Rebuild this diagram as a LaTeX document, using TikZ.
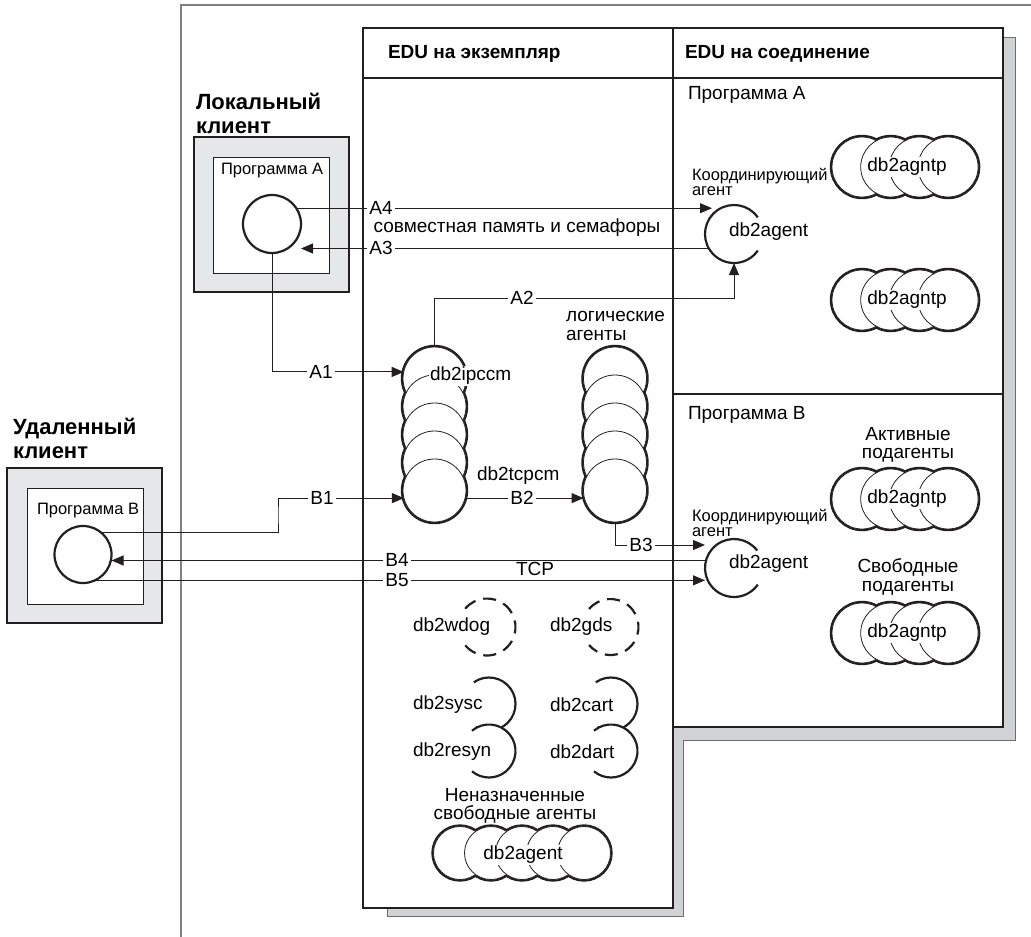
\documentclass[tikz,border=0pt]{standalone}
\usepackage{fontspec}
\setmainfont{Liberation Sans}
\usetikzlibrary{arrows.meta,calc}
\definecolor{shadowgray}{HTML}{D1D2D4}
\definecolor{boxgray}{HTML}{E6E7E8}
\definecolor{framegray}{HTML}{808080}
\definecolor{shadowline}{HTML}{6D6E70}
\definecolor{ink}{HTML}{231F20}
\newcommand{\myfs}[2]{\fontsize{#1}{#2}\selectfont}
\newcommand{\myhclust}[5]{%
  \foreach \i in {1,...,#3} {\draw[ink, line width=4.4pt] ({#1+(\i-1)*#4},#2) circle[radius=#5];}
  \foreach \i in {1,...,#3} {\fill[white] ({#1+(\i-1)*#4},#2) circle[radius=#5];}
  \foreach \i in {1,...,#3} {\filldraw[fill=white, draw=ink, line width=0.8pt] ({#1+(\i-1)*#4},#2) circle[radius=#5];}
}
\newcommand{\myvclust}[5]{%
  \foreach \i in {1,...,#3} {\draw[ink, line width=4.4pt] (#1,{#2+(\i-1)*#4}) circle[radius=#5];}
  \foreach \i in {1,...,#3} {\fill[white] (#1,{#2+(\i-1)*#4}) circle[radius=#5];}
  \foreach \i in {1,...,#3} {\filldraw[fill=white, draw=ink, line width=0.8pt] (#1,{#2+(\i-1)*#4}) circle[radius=#5];}
}
\begin{document}
\begin{tikzpicture}[x=1pt,y=-1pt,
  every node/.style={inner sep=0pt, outer sep=0pt},
  thickbox/.style={draw=ink, line width=2.6pt},
  conn/.style={draw=ink, line width=1pt},
  arr/.style={conn, -{Triangle[length=12pt,width=10pt]}},
  lbl/.style={fill=white, inner xsep=2pt, inner ysep=0.5pt, font=\myfs{19}{19}},
  txt/.style={font=\myfs{19}{18.5}},
  smalltxt/.style={font=\myfs{16.5}{15.5}, align=left},
  boxtxt/.style={font=\myfs{16.5}{18}},
  hdr/.style={font=\bfseries\myfs{19}{19}},
  ttl/.style={font=\bfseries\myfs{22}{24}, align=left},
  anch/.style={circle, minimum size=#1, inner sep=0pt, outer sep=0pt},
  agline/.style={draw=ink, line width=2.2pt},
]
\useasboundingbox (0,0) rectangle (1031,937);
% outer frame
\draw[framegray, line width=1.5pt] (181,937) -- (181,5) -- (1031,5);
% shadow
\filldraw[fill=shadowgray, draw=shadowline, line width=1pt] (387,37) -- (1015,37) -- (1015,740) -- (683,740) -- (683,916) -- (387,916) -- cycle;
% main boxes
\filldraw[fill=white, thickbox] (363,28) rectangle (673,908);
\filldraw[fill=white, thickbox] (673,28) rectangle (1003,727);
\draw[thickbox] (363,78) -- (1003,78);
\draw[thickbox] (673,394) -- (1003,394);
\node[hdr, anchor=west] (h1) at (388,54) {EDU на экземпляр};
\node[hdr, anchor=west] (h2) at (685,54) {EDU на соединение};

% local client
\node[ttl, anchor=west] (lcttl) at (196,113) {Локальный\\клиент};
\filldraw[fill=boxgray, thickbox] (194,137) rectangle (349,292);
\filldraw[fill=white, draw=ink, line width=1pt] (213,157) rectangle (329,273);
\node[boxtxt, anchor=west] (lcprog) at (221,171) {Программа А};
\node[anch=58, draw=ink, line width=2.2pt] (lcirc) at (272,224) {};

% remote client
\node[ttl, anchor=west] (rcttl) at (13,438) {Удаленный\\клиент};
\filldraw[fill=boxgray, thickbox] (7,468) rectangle (162,623);
\filldraw[fill=white, draw=ink, line width=1pt] (27,488) rectangle (143,604);
\node[boxtxt, anchor=west] (rcprog) at (37,511) {Программа В};
\node[anch=57, draw=ink, line width=2.2pt] (rcirc) at (83,554.5) {};

% stacks
\myvclust{434.5}{378.5}{5}{28}{31.5}
\myvclust{615}{378.5}{5}{28}{31.5}
\node[anch=63] (ipc1) at (434.5,378.5) {};
\node[anch=63] (ipc5) at (434.5,490.5) {};
\node[anch=63] (log5) at (615,490.5) {};
\node[txt, fill=white, inner sep=1pt, anchor=west] (ipctxt) at (429,376) {db2ipccm};
\node[txt, anchor=west] (tcptxt) at (477,476) {db2tcpcm};
\node[txt, anchor=west, align=left] (logtxt) at (566,326) {логические\\агенты};

% coordinating agents
\node[anch=58] (agA) at (734,234) {};
\draw[agline] (agA.center) ++(-35:29) arc[start angle=-35, end angle=-325, radius=29];
\node[txt, anchor=west] (agAtxt) at (729,232) {db2agent};
\node[smalltxt, anchor=west] (coA) at (692,182) {Координирующий\\агент};
\node[anch=58] (agB) at (734,568) {};
\draw[agline] (agB.center) ++(-37:29) arc[start angle=-37, end angle=-325, radius=29];
\node[txt, anchor=west] (agBtxt) at (729,564) {db2agent};
\node[smalltxt, anchor=west] (coB) at (692,523) {Координирующий\\агент};

% right texts
\node[txt, anchor=west] (progA) at (688,95) {Программа А};
\node[txt, anchor=west] (progB) at (688,415) {Программа В};
\node[txt, align=center] (act) at (908,445) {Активные\\подагенты};
\node[txt, align=center] (free) at (908,577) {Свободные\\подагенты};

% subagent clusters
\myhclust{862}{167}{4}{28.7}{30}
\node[txt, fill=white, inner sep=1pt] (c1) at (907,167) {db2agntp};
\myhclust{862}{300}{4}{28.7}{30}
\node[txt, fill=white, inner sep=1pt] (c2) at (907,300) {db2agntp};
\myhclust{862}{499}{4}{28.7}{30}
\node[txt, fill=white, inner sep=1pt] (c3) at (907,499) {db2agntp};
\myhclust{862}{633}{4}{28.7}{30}
\node[txt, fill=white, inner sep=1pt] (c4) at (907,633) {db2agntp};

% system EDUs
\node[anch=57] (wdog) at (487,627) {};
\draw[agline, dash pattern=on 13pt off 8pt] (wdog.center) ++(-140:28.5) arc[start angle=-140, end angle=140, radius=28.5];
\node[txt, anchor=west] (wdogT) at (413,627) {db2wdog};
\node[anch=56] (gds) at (610.5,627) {};
\draw[agline, dash pattern=on 13pt off 8pt] (gds.center) ++(-140:28) arc[start angle=-140, end angle=140, radius=28];
\node[txt, anchor=west] (gdsT) at (550,627) {db2gds};

\node[anch=53] (sysc) at (489,704) {};
\node[anch=53] (resyn) at (489,751) {};
\draw[agline] (sysc.center) ++(-125:26.5) arc[start angle=-125, end angle=120, radius=26.5];
\fill[white] (resyn.center) circle[radius=26.5];
\draw[agline] (resyn.center) ++(-130:26.5) arc[start angle=-130, end angle=130, radius=26.5];
\node[txt, anchor=west] (syscT) at (413,705) {db2sysc};
\node[txt, anchor=west] (resynT) at (413,752) {db2resyn};

\node[anch=53] (cart) at (611,704) {};
\node[anch=53] (dart) at (611,751) {};
\draw[agline] (cart.center) ++(-125:26.5) arc[start angle=-125, end angle=120, radius=26.5];
\fill[white] (dart.center) circle[radius=26.5];
\draw[agline] (dart.center) ++(-130:26.5) arc[start angle=-130, end angle=130, radius=26.5];
\node[txt, anchor=west] (cartT) at (550,705) {db2cart};
\node[txt, anchor=west] (dartT) at (550,752) {db2dart};

\node[txt, align=center] (unass) at (515,806) {Неназначенные\\свободные агенты};
\myhclust{460}{853}{5}{31}{26.5}
\node[txt, fill=white, inner sep=1pt] (c5) at (523,855) {db2agent};

% connectors
\coordinate (agAtip) at ($(agA.west)+(7,0)$);
\draw[arr] (lcirc.33) -- (lcirc.33 -| agAtip);
\draw[arr] (agA.-150) -- (agA.-150 -| lcirc.east);
\node[txt] (shm) at (517,228) {совместная память и семафоры};
\node[lbl] (lA4) at (381,208) {A4};
\node[lbl] (lA3) at (381,248) {A3};

\draw[arr] (lcirc.south) |- (ipc1.168);
\node[lbl] (lA1) at (321,372) {A1};
\draw[arr] (ipc1.north) -- ++(0,-49) -| (agA.south);
\node[lbl] (lA2) at (522,298) {A2};

\coordinate (b1k) at (278,515);
\draw[arr] (rcirc.50) -| (b1k) |- (ipc5.194);
\node[lbl] (lB1) at (322,498) {B1};
\draw[arr] (ipc5.-14) -- (ipc5.-14 -| log5.west);
\node[lbl] (lB2) at (522,498) {B2};
\draw[arr] (log5.south) |- ($(agB.west)+(0,-23)$);
\node[lbl] (lB3) at (641,545) {B3};
\draw[arr] (agB.165) -- (agB.165 -| rcirc.east);
\node[lbl] (lB4) at (397,560) {B4};
\draw[arr] (rcirc.-65) -- (rcirc.-65 -| agB.west);
\node[lbl] (lB5) at (397,580) {B5};
\node[txt] (tcp) at (535,569) {TCP};
\end{tikzpicture}
\end{document}
